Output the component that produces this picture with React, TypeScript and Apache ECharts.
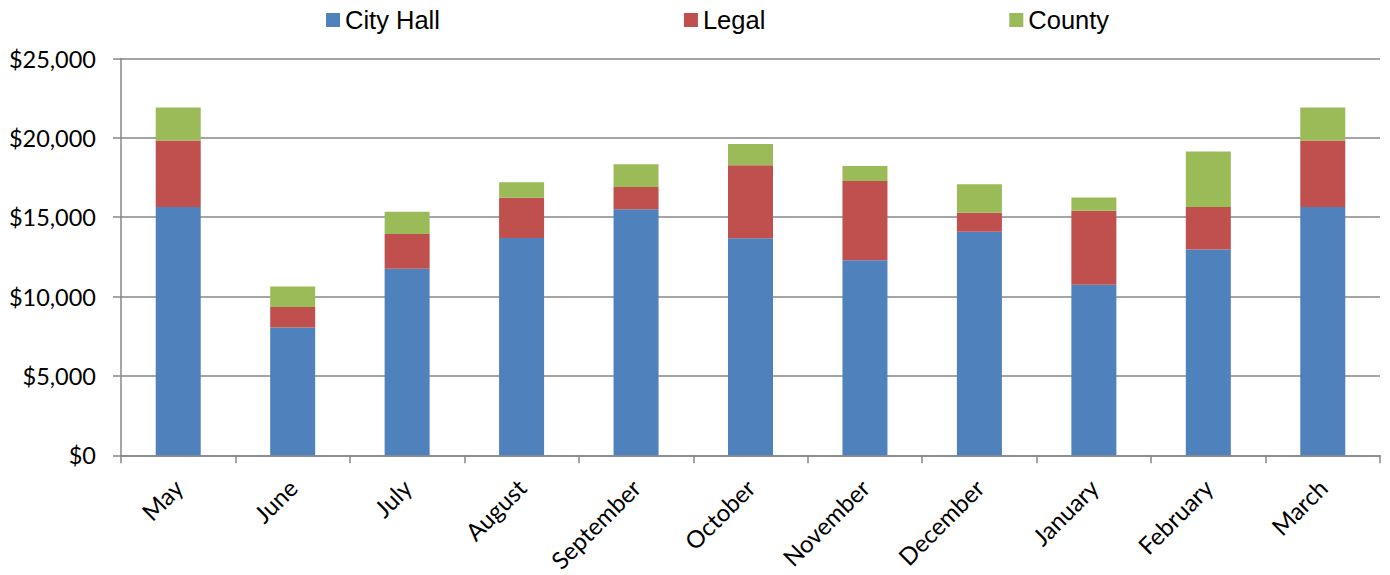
import React, { useEffect, useRef } from "react";
import * as echarts from "echarts";

const months = ["May", "June", "July", "August", "September", "October", "November", "December", "January", "February", "March"];
const cityHall = [15650, 8050, 11750, 13690, 15500, 13670, 12290, 14080, 10750, 12960, 15650];
const legal = [4180, 1300, 2190, 2530, 1400, 4610, 4990, 1200, 4650, 2690, 4180];
const county = [2090, 1290, 1400, 980, 1430, 1340, 940, 1790, 840, 3490, 2090];
const seriesNames = ["City Hall", "Legal", "County"];
const colors = ["#4F81BD", "#C0504D", "#9BBB59"];

export default function App() {
  const ref = useRef<HTMLDivElement>(null);
  useEffect(() => {
    if (!ref.current) return;
    const chart = echarts.init(ref.current, null, { renderer: "svg" });
    const axisColor = "#878787";
    const labelFont = "Lato, 'Open Sans', sans-serif";
    const datasets = [cityHall, legal, county];
    chart.setOption({
      animation: false,
      color: colors,
      legend: {
        top: 2,
        left: 321,
        itemGap: 244,
        itemWidth: 14,
        itemHeight: 14,
        icon: "rect",
        textStyle: { fontFamily: "'Liberation Sans', Arial, sans-serif", fontSize: 25.5, color: "#000" },
        data: seriesNames,
      },
      grid: { left: 121, right: 10, top: 58.5, bottom: 117.5, containLabel: false },
      xAxis: {
        type: "category",
        data: months,
        axisLine: { lineStyle: { color: axisColor, width: 1.5 } },
        axisTick: { show: true, length: 8, lineStyle: { color: axisColor, width: 1.5 } },
        axisLabel: {
          rotate: 45,
          margin: 28,
          fontFamily: labelFont,
          fontSize: 24,
          color: "#000",
        },
      },
      yAxis: {
        type: "value",
        min: 0,
        max: 25000,
        interval: 5000,
        axisLine: { show: true, lineStyle: { color: axisColor, width: 1.5 } },
        axisTick: { show: true, length: 8, lineStyle: { color: axisColor, width: 1.5 } },
        splitLine: { lineStyle: { color: axisColor, width: 1.5 } },
        axisLabel: {
          margin: 25,
          fontFamily: labelFont,
          fontSize: 23.5,
          color: "#000",
          formatter: (v: number) => "$" + v.toLocaleString("en-US"),
        },
      },
      series: seriesNames.map((name, i) => ({
        name,
        type: "bar",
        stack: "total",
        barWidth: 45,
        data: datasets[i],
        itemStyle: { color: colors[i] },
      })),
    });
    return () => chart.dispose();
  }, []);
  return <div ref={ref} style={{ width: 1390, height: 575, position: "absolute", left: 0, top: 0 }} />;
}
